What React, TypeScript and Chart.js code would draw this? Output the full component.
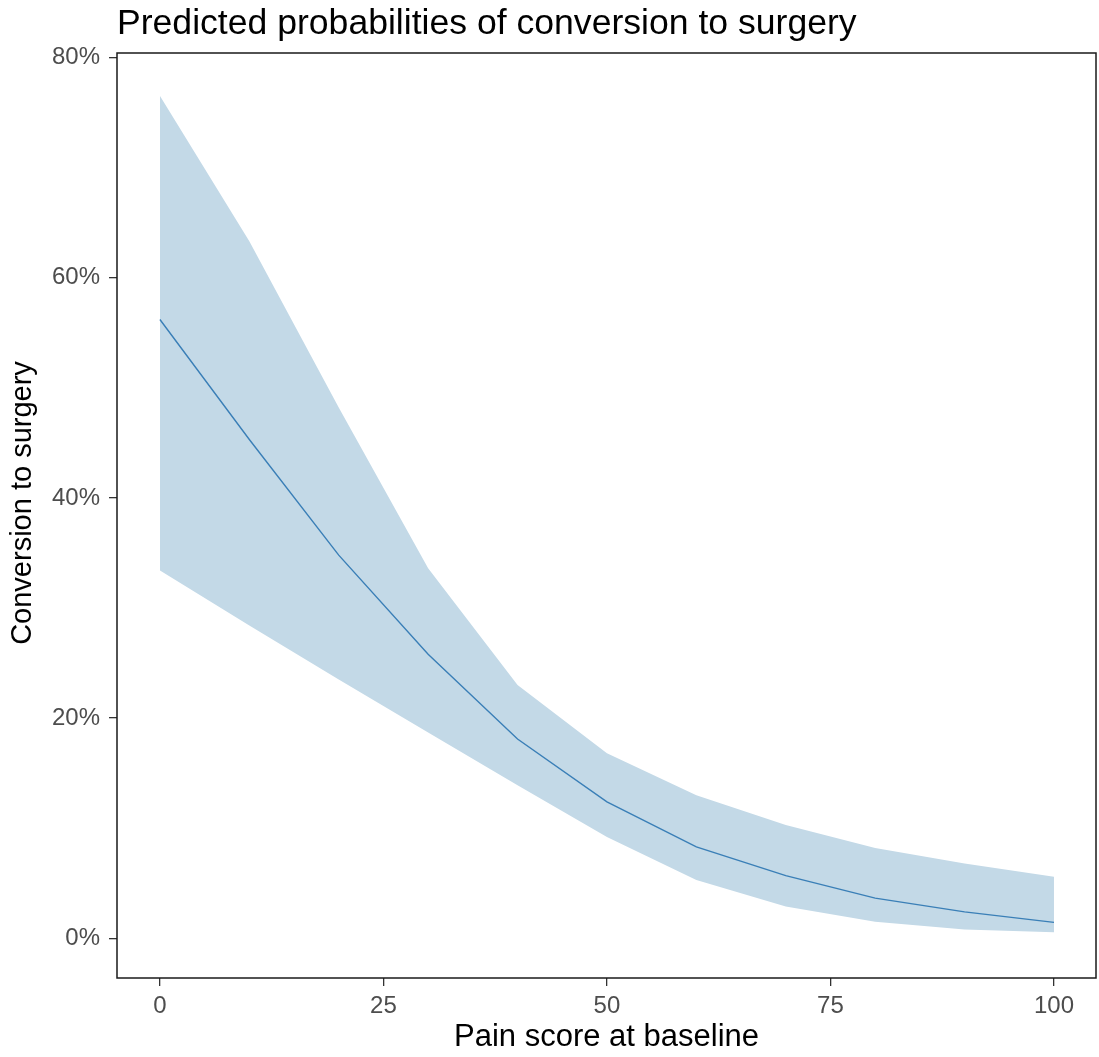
import React, { useEffect, useRef } from "react";
import { Chart, registerables } from "chart.js";

Chart.register(...registerables);

const painScore = [0, 10, 20, 30, 40, 50, 60, 70, 80, 90, 100];
const predicted = [56.2, 45.3, 34.8, 25.8, 18.1, 12.4, 8.3, 5.7, 3.65, 2.4, 1.45];
const upperCI = [76.5, 63.3, 48.2, 33.6, 23.0, 16.8, 13.0, 10.3, 8.2, 6.8, 5.6];
const lowerCI = [33.4, 28.4, 23.5, 18.7, 13.9, 9.2, 5.3, 2.9, 1.5, 0.8, 0.55];
const xTicks = [0, 25, 50, 75, 100];
const yTicks = [0, 20, 40, 60, 80];
const yAxisTitle = "Conversion to surgery";

const W = 1099;
const H = 1057;
const FONT = "'Liberation Sans', Arial, sans-serif";

const panelBorder = {
  id: "panelBorder",
  afterDatasetsDraw(chart: any) {
    const { ctx, chartArea } = chart;
    ctx.save();
    ctx.strokeStyle = "#1a1a1a";
    ctx.lineWidth = 1.5;
    ctx.strokeRect(chartArea.left, chartArea.top, chartArea.right - chartArea.left, chartArea.bottom - chartArea.top);
    ctx.restore();
  },
};

const yTitlePlugin = {
  id: "yTitlePlugin",
  afterDraw(chart: any) {
    const { ctx } = chart;
    ctx.save();
    ctx.translate(23, 503);
    ctx.rotate(-Math.PI / 2);
    ctx.fillStyle = "#000000";
    ctx.font = "29px " + FONT;
    ctx.textAlign = "center";
    ctx.textBaseline = "middle";
    ctx.fillText(yAxisTitle, 0, 0);
    ctx.restore();
  },
};

export default function App() {
  const ref = useRef<HTMLCanvasElement | null>(null);
  useEffect(() => {
    if (!ref.current) return;
    const toPts = (arr: number[]) => painScore.map((x, i) => ({ x, y: arr[i] }));
    const chart = new Chart(ref.current, {
      type: "line",
      data: {
        datasets: [
          {
            label: "Predicted",
            data: toPts(predicted),
            borderColor: "#3A7FB7",
            borderWidth: 1.4,
            pointRadius: 0,
            fill: false,
            tension: 0,
          },
          {
            label: "Upper",
            data: toPts(upperCI),
            borderWidth: 0,
            borderColor: "rgba(0,0,0,0)",
            backgroundColor: "#C3D9E7",
            pointRadius: 0,
            fill: "+1",
            tension: 0,
          },
          {
            label: "Lower",
            data: toPts(lowerCI),
            borderWidth: 0,
            borderColor: "rgba(0,0,0,0)",
            pointRadius: 0,
            fill: false,
            tension: 0,
          },
        ],
      },
      options: {
        animation: false,
        responsive: false,
        maintainAspectRatio: false,
        layout: { padding: { left: 0, right: 3, top: 0, bottom: 0 } },
        plugins: {
          legend: { display: false },
          tooltip: { enabled: false },
          title: {
            display: true,
            text: "Predicted probabilities of conversion to surgery",
            align: "start",
            fullSize: false,
            color: "#000000",
            font: { family: FONT, size: 35.6, weight: "normal" },
            padding: { top: 3, bottom: 7.28 },
          },
        },
        scales: {
          x: {
            type: "linear",
            min: -4.8,
            max: 104.7,
            afterFit: (s: any) => {
              s.height = 79;
            },
            afterBuildTicks: (s: any) => {
              s.ticks = xTicks.map((v) => ({ value: v }));
            },
            ticks: {
              color: "#4D4D4D",
              padding: 5.5,
              font: { family: FONT, size: 24 },
              maxRotation: 0,
              callback: (v: any) => String(v),
            },
            grid: { display: true, drawOnChartArea: false, drawTicks: true, tickLength: 8, color: "#333333", lineWidth: 1.3 },
            border: { display: false },
            title: {
              display: true,
              text: "Pain score at baseline",
              color: "#000000",
              font: { family: FONT, size: 31 },
              padding: { top: 0, bottom: 0.5 },
            },
          },
          y: {
            type: "linear",
            min: -3.6,
            max: 80.4,
            afterFit: (s: any) => {
              s.width = 117;
            },
            afterBuildTicks: (s: any) => {
              s.ticks = yTicks.map((v) => ({ value: v }));
            },
            ticks: {
              color: "#4D4D4D",
              padding: 9,
              font: { family: FONT, size: 24 },
              callback: (v: any) => v + "%",
            },
            grid: { display: true, drawOnChartArea: false, drawTicks: true, tickLength: 8, color: "#333333", lineWidth: 1.3 },
            border: { display: false },
            title: { display: false },
          },
        },
      },
      plugins: [panelBorder, yTitlePlugin],
    });
    return () => chart.destroy();
  }, []);
  return (
    <div style={{ position: "absolute", left: 0, top: 0, width: W, height: H, background: "#ffffff" }}>
      <canvas ref={ref} width={W} height={H} style={{ width: W, height: H, display: "block" }} />
    </div>
  );
}
